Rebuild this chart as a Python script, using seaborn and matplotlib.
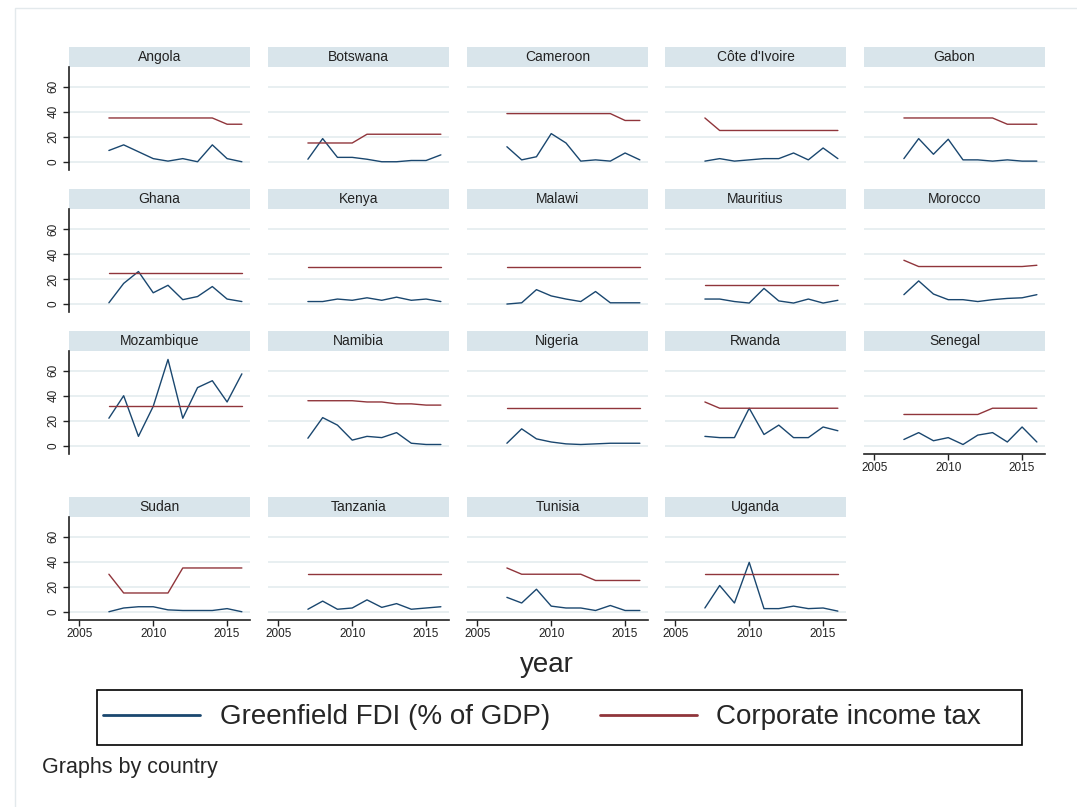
import pandas as pd
import matplotlib.pyplot as plt
import seaborn as sns
from matplotlib.patches import Rectangle
from matplotlib.lines import Line2D

## Panel data: one FDI and one tax series per country, 2007-2016
years = [2007, 2008, 2009, 2010, 2011, 2012, 2013, 2014, 2015, 2016]
countries = ['Angola', 'Botswana', 'Cameroon', "Côte d'Ivoire", 'Gabon',
             'Ghana', 'Kenya', 'Malawi', 'Mauritius', 'Morocco',
             'Mozambique', 'Namibia', 'Nigeria', 'Rwanda', 'Senegal',
             'Sudan', 'Tanzania', 'Tunisia', 'Uganda']

angola_fdi = [9, 13.5, 8, 2.5, 0.5, 2.5, 0, 13.5, 2.5, 0]
angola_tax = [35, 35, 35, 35, 35, 35, 35, 35, 30, 30]
botswana_fdi = [2, 18.5, 3.5, 3.5, 2, 0, 0, 1, 1, 5.5]
botswana_tax = [15, 15, 15, 15, 22, 22, 22, 22, 22, 22]
cameroon_fdi = [12, 1.5, 4, 22.5, 15, 0.5, 1.5, 0.5, 7, 1.5]
cameroon_tax = [38.5, 38.5, 38.5, 38.5, 38.5, 38.5, 38.5, 38.5, 33, 33]
cdi_fdi = [0.5, 2.5, 0.5, 1.5, 2.5, 2.5, 7, 1.5, 11, 2.5]
cdi_tax = [35, 25, 25, 25, 25, 25, 25, 25, 25, 25]
gabon_fdi = [2.5, 18.5, 6, 18, 1.5, 1.5, 0.5, 1.5, 0.5, 0.5]
gabon_tax = [35, 35, 35, 35, 35, 35, 35, 30, 30, 30]
ghana_fdi = [1, 16.5, 26, 9, 15, 3.5, 6, 14, 4, 2]
ghana_tax = [25, 25, 25, 25, 25, 25, 25, 25, 25, 25]
kenya_fdi = [2, 2, 4, 3, 5, 3, 5.5, 3, 4, 2]
kenya_tax = [30, 30, 30, 30, 30, 30, 30, 30, 30, 30]
malawi_fdi = [0, 1, 11.5, 6.5, 4, 2, 10, 1, 1, 1]
malawi_tax = [30, 30, 30, 30, 30, 30, 30, 30, 30, 30]
mauritius_fdi = [4, 4, 2, 0.8, 12.5, 2.5, 0.8, 4, 0.8, 3]
mauritius_tax = [15, 15, 15, 15, 15, 15, 15, 15, 15, 15]
morocco_fdi = [7.5, 18.5, 8, 3.5, 3.5, 2, 3.5, 4.5, 5, 7.5]
morocco_tax = [35, 30, 30, 30, 30, 30, 30, 30, 30, 31]
mozambique_fdi = [22, 40, 7.5, 31.5, 69, 22, 46.5, 52, 35, 57.5]
mozambique_tax = [32, 32, 32, 32, 32, 32, 32, 32, 32, 32]
namibia_fdi = [6, 22.5, 16.5, 4.5, 7.5, 6.5, 10.5, 2, 1, 1]
namibia_tax = [36, 36, 36, 36, 35, 35, 33.5, 33.5, 32.5, 32.5]
nigeria_fdi = [2, 13.5, 5.5, 3, 1.5, 1, 1.5, 2, 2, 2]
nigeria_tax = [30, 30, 30, 30, 30, 30, 30, 30, 30, 30]
rwanda_fdi = [7.5, 6.5, 6.5, 30, 9, 16.5, 6.5, 6.5, 15, 12]
rwanda_tax = [35, 30, 30, 30, 30, 30, 30, 30, 30, 30]
senegal_fdi = [5, 10.5, 4, 6.5, 1, 8.5, 10.5, 3, 15, 3]
senegal_tax = [25, 25, 25, 25, 25, 25, 30, 30, 30, 30]
sudan_fdi = [0, 3, 4, 4, 1.5, 1, 1, 1, 2.5, 0]
sudan_tax = [30, 15, 15, 15, 15, 35, 35, 35, 35, 35]
tanzania_fdi = [2, 8.5, 2, 3, 9.5, 3.5, 6.5, 2, 3, 4]
tanzania_tax = [30, 30, 30, 30, 30, 30, 30, 30, 30, 30]
tunisia_fdi = [11.5, 7, 18, 4.5, 3, 3, 1, 5, 1, 1]
tunisia_tax = [35, 30, 30, 30, 30, 30, 25, 25, 25, 25]
uganda_fdi = [3, 21, 7, 39.5, 2.5, 2.5, 4.5, 2.5, 3, 0.5]
uganda_tax = [30, 30, 30, 30, 30, 30, 30, 30, 30, 30]

fdi_series = [angola_fdi, botswana_fdi, cameroon_fdi, cdi_fdi, gabon_fdi,
              ghana_fdi, kenya_fdi, malawi_fdi, mauritius_fdi, morocco_fdi,
              mozambique_fdi, namibia_fdi, nigeria_fdi, rwanda_fdi, senegal_fdi,
              sudan_fdi, tanzania_fdi, tunisia_fdi, uganda_fdi]
tax_series = [angola_tax, botswana_tax, cameroon_tax, cdi_tax, gabon_tax,
              ghana_tax, kenya_tax, malawi_tax, mauritius_tax, morocco_tax,
              mozambique_tax, namibia_tax, nigeria_tax, rwanda_tax, senegal_tax,
              sudan_tax, tanzania_tax, tunisia_tax, uganda_tax]

series_labels = ['Greenfield FDI (% of GDP)', 'Corporate income tax']
line_colors = ['#1a476f', '#90353b']

# long format table
rows = []
for c, f, t in zip(countries, fdi_series, tax_series):
    for y, fv, tv in zip(years, f, t):
        rows.append((c, y, series_labels[0], fv))
        rows.append((c, y, series_labels[1], tv))
df = pd.DataFrame(rows, columns=['country', 'year', 'series', 'value'])

sns.set_style('white')
plt.rcParams['font.family'] = ['Liberation Sans', 'DejaVu Sans']

W, H = 1077, 807
fig = plt.figure(figsize=(W / 100, H / 100), dpi=100)

# panel geometry in pixels
col_left = [69, 268, 467, 665, 864]
row_top = [66.7, 209, 350.7, 516.7]
panel_w, panel_h, strip_h = 181, 103.3, 20

for i, c in enumerate(countries):
    r, k = divmod(i, 5)
    ax = fig.add_axes([col_left[k] / W, 1 - (row_top[r] + panel_h) / H,
                       panel_w / W, panel_h / H])
    sns.lineplot(data=df[df.country == c], x='year', y='value', hue='series',
                 hue_order=series_labels, palette=line_colors, lw=1,
                 errorbar=None, legend=False, ax=ax)
    ax.set_xlim(2004.3, 2016.55)
    ax.set_ylim(-6.6, 76)
    ax.set_xticks([2005, 2010, 2015])
    ax.set_yticks([0, 20, 40, 60])
    ax.grid(axis='y', color='#e6eef0', lw=1.3)
    ax.grid(axis='x', visible=False)
    ax.set_axisbelow(True)
    ax.set_xlabel('')
    ax.set_ylabel('')
    for s in ax.spines.values():
        s.set_visible(False)

    # left axis only on first column
    if k == 0:
        ax.spines['left'].set_visible(True)
        ax.spines['left'].set_color('#222222')
        ax.spines['left'].set_linewidth(1.2)
        ax.tick_params(axis='y', left=True, length=4, width=1, pad=3,
                       labelsize=8.5, colors='#222222')
        for lab in ax.get_yticklabels():
            lab.set_rotation(90)
            lab.set_va('center')
    else:
        ax.tick_params(axis='y', left=False, labelleft=False)

    # bottom axis on last row and Senegal
    if r == 3 or c == 'Senegal':
        ax.spines['bottom'].set_visible(True)
        ax.spines['bottom'].set_color('#222222')
        ax.spines['bottom'].set_linewidth(1.2)
        ax.tick_params(axis='x', bottom=True, length=4, width=1, pad=2,
                       labelsize=8.5, colors='#222222')
    else:
        ax.tick_params(axis='x', bottom=False, labelbottom=False)

    # strip header
    sh = strip_h / panel_h
    ax.add_patch(Rectangle((0, 1), 1, sh, transform=ax.transAxes,
                           clip_on=False, fc='#d9e5eb', ec='none'))
    ax.text(0.5, 1 + sh / 2, c, transform=ax.transAxes, ha='center',
            va='center', fontsize=10, color='#222222')

fig.text(547 / W, 1 - 665 / H, 'year', ha='center', va='center', fontsize=20)

# legend content, then its box drawn separately (wider on the right, like Stata)
handles = [Line2D([], [], color=line_colors[0], lw=2),
           Line2D([], [], color=line_colors[1], lw=2)]
fig.legend(handles, series_labels, loc='center',
           bbox_to_anchor=(542 / W, 1 - 717.5 / H), ncol=2,
           fontsize=20, frameon=False,
           handlelength=3.5, handletextpad=0.7, columnspacing=1.8,
           borderpad=0.4)
fig.add_artist(Rectangle((97 / W, 1 - 745 / H), 925 / W, 55 / H,
                         transform=fig.transFigure, fill=False,
                         ec='black', lw=1.2))

fig.text(42 / W, 1 - 767 / H, 'Graphs by country', ha='left', va='center',
         fontsize=15.5)

# faint outer frame of the graph region
fig.add_artist(Rectangle((15 / W, -0.01), 1, 1 - 8 / H + 0.01,
                         transform=fig.transFigure, fill=False,
                         ec='#e3e9ec', lw=1))

fig.savefig('out.png', dpi=100)
